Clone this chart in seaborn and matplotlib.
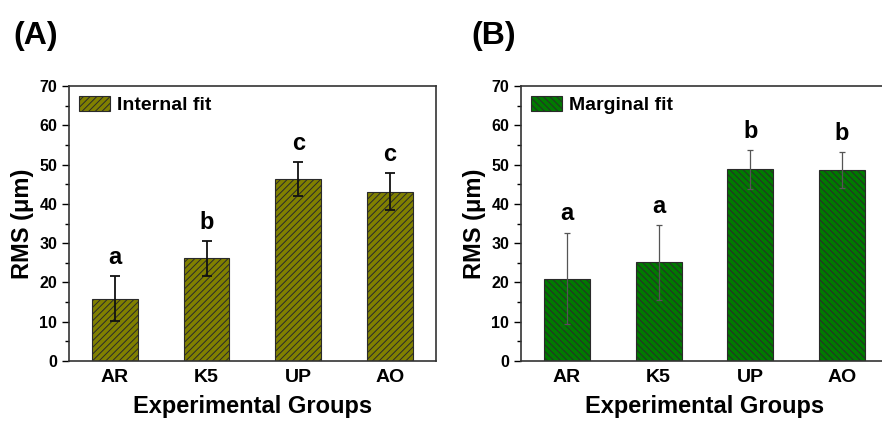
import numpy as np
import pandas as pd
import matplotlib.pyplot as plt
import seaborn as sns
from matplotlib.patches import Patch
from matplotlib.ticker import MultipleLocator

groups = ["AR", "K5", "UP", "AO"]

internal_mean = [15.9, 26.1, 46.3, 43.1]
internal_err = [5.8, 4.5, 4.4, 4.7]
internal_letters = ["a", "b", "c", "c"]

marginal_mean = [21.0, 25.1, 48.8, 48.6]
marginal_err = [11.7, 9.5, 5.0, 4.5]
marginal_letters = ["a", "a", "b", "b"]

sns.set_style("ticks")
plt.rcParams["font.family"] = ["Liberation Sans", "DejaVu Sans"]
plt.rcParams["font.weight"] = "bold"
plt.rcParams["hatch.linewidth"] = 0.7
for k in ["text.color", "axes.labelcolor", "xtick.color", "ytick.color"]:
    plt.rcParams[k] = "black"


def draw_panel(ax, means, errs, letters, color, hatch, label, err_color, err_lw, cap):
    df = pd.DataFrame({"group": groups, "rms": means})
    sns.barplot(data=df, x="group", y="rms", color=color, width=0.5,
                errorbar=None, saturation=1, ax=ax)
    for p in ax.patches:
        p.set_hatch(hatch)
        p.set_edgecolor("#2a2a2a")
        p.set_linewidth(0.8)
    x = np.arange(len(groups))
    ax.errorbar(x, means, yerr=errs, fmt="none", ecolor=err_color,
                elinewidth=err_lw, capsize=cap, capthick=err_lw)
    for xi, m, e, t in zip(x, means, errs, letters):
        ax.text(xi, m + e + 1.8, t, ha="center", va="bottom",
                fontsize=17, fontweight="bold")

    ax.set_xlim(-0.5, 3.5)
    ax.set_ylim(0, 70)
    ax.yaxis.set_major_locator(MultipleLocator(10))
    ax.yaxis.set_minor_locator(MultipleLocator(5))
    ax.tick_params(axis="y", which="major", length=5, width=1, labelsize=11.5)
    ax.tick_params(axis="y", which="minor", length=3, width=1)
    ax.tick_params(axis="x", length=0, labelsize=14, pad=6)
    for lab in ax.get_xticklabels() + ax.get_yticklabels():
        lab.set_fontweight("bold")
    for s in ax.spines.values():
        s.set_visible(True)
        s.set_color("#333333")
        s.set_linewidth(1.2)
    ax.set_xlabel("Experimental Groups", fontsize=17, fontweight="bold", labelpad=6)
    ax.set_ylabel("RMS (\u03bcm)", fontsize=17, fontweight="bold", labelpad=4)

    handle = Patch(facecolor=color, edgecolor="#2a2a2a", hatch=hatch, linewidth=0.8)
    ax.legend([handle], [label], loc="upper left", frameon=False,
              prop={"size": 14, "weight": "bold"}, handlelength=1.6,
              handleheight=0.8, handletextpad=0.35, borderaxespad=0.3,
              borderpad=0.2)


fig = plt.figure(figsize=(8.82, 4.22), dpi=100)
ax1 = fig.add_axes([0.0782, 0.1445, 0.416, 0.6517])
ax2 = fig.add_axes([0.5907, 0.1445, 0.416, 0.6517])

draw_panel(ax1, internal_mean, internal_err, internal_letters, "#808000", "/////",
           "Internal fit", "#111111", 1.3, 3.5)
draw_panel(ax2, marginal_mean, marginal_err, marginal_letters, "#007a00", "\\\\\\\\\\",
           "Marginal fit", "#555555", 0.9, 2.5)

fig.text(0.015, 0.915, "(A)", fontsize=23, fontweight="bold", va="center")
fig.text(0.535, 0.915, "(B)", fontsize=23, fontweight="bold", va="center")

fig.savefig("out.png", dpi=100)
